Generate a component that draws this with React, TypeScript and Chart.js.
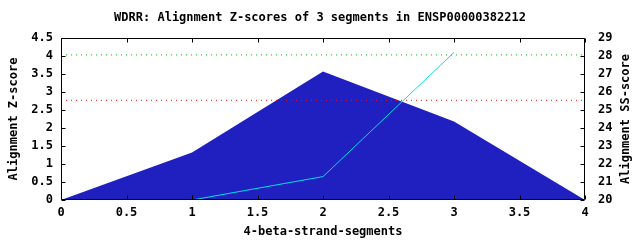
import React, { useEffect, useRef } from 'react';
import { Chart, registerables } from 'chart.js';
Chart.register(...registerables);

const TITLE = 'WDRR: Alignment Z-scores of 3 segments in ENSP00000382212';
const X_LABEL = '4-beta-strand-segments';
const Y_LABEL = 'Alignment Z-score';
const Y2_LABEL = 'Alignment SS-score';

const zSegments = [0, 1, 2, 3, 4];
const zScores = [0, 1.32, 3.57, 2.18, 0];
const ssSegments = [1, 2, 3];
const ssScores = [20, 21.3, 28.2];
const greenLevel = 4.03;
const redLevel = 2.77;
const xRange = [0, 4];

const FAMILY = '"DejaVu Sans Mono", monospace';
const FONT = { family: FAMILY, size: 12, weight: 'bold' as const };

const frame = {
  id: 'frame',
  afterDraw(chart: any) {
    const { ctx, chartArea: a, scales } = chart;
    const L = Math.round(a.left) + 0.5;
    const R = Math.round(a.right) - 0.5;
    const T = Math.round(a.top) + 0.5;
    const B = Math.round(a.bottom) - 0.5;
    ctx.save();
    ctx.strokeStyle = '#000';
    ctx.lineWidth = 1;
    ctx.beginPath();
    ctx.rect(L, T, R - L, B - T);
    const len = 4;
    scales.x.ticks.forEach((t: any) => {
      const px = Math.round(scales.x.getPixelForValue(t.value)) + 0.5;
      ctx.moveTo(px, B); ctx.lineTo(px, B - len);
      ctx.moveTo(px, T); ctx.lineTo(px, T + len);
    });
    scales.y.ticks.forEach((t: any) => {
      const py = Math.round(scales.y.getPixelForValue(t.value)) + 0.5;
      ctx.moveTo(L, py); ctx.lineTo(L + len, py);
    });
    scales.y2.ticks.forEach((t: any) => {
      const py = Math.round(scales.y2.getPixelForValue(t.value)) + 0.5;
      ctx.moveTo(R, py); ctx.lineTo(R - len, py);
    });
    ctx.stroke();
    // right axis title, reading bottom-to-top like the left one
    ctx.fillStyle = '#000';
    ctx.font = `bold 12px ${FAMILY}`;
    ctx.textAlign = 'center';
    ctx.textBaseline = 'middle';
    ctx.translate(626, (a.top + a.bottom) / 2);
    ctx.rotate(-Math.PI / 2);
    ctx.fillText(Y2_LABEL, 0, 0);
    ctx.restore();
  },
};

const fmt = (v: any) => String(Math.round(Number(v) * 100) / 100);

export default function App() {
  const ref = useRef<HTMLCanvasElement>(null);
  useEffect(() => {
    document.body.style.margin = '0';
    const chart = new Chart(ref.current!, {
      type: 'line',
      data: {
        datasets: [
          {
            data: [{ x: xRange[0], y: greenLevel }, { x: xRange[1], y: greenLevel }],
            borderColor: '#00c000', borderWidth: 1, borderDash: [1, 4],
            pointRadius: 0, yAxisID: 'y', order: 0,
          },
          {
            data: [{ x: xRange[0], y: redLevel }, { x: xRange[1], y: redLevel }],
            borderColor: '#ff0000', borderWidth: 1, borderDash: [1, 4],
            pointRadius: 0, yAxisID: 'y', order: 0,
          },
          {
            data: ssSegments.map((x, i) => ({ x, y: ssScores[i] })),
            borderColor: '#00e0e0', borderWidth: 1, pointRadius: 0,
            yAxisID: 'y2', order: 1,
          },
          {
            data: zSegments.map((x, i) => ({ x, y: zScores[i] })),
            borderWidth: 0, borderColor: 'rgba(0,0,0,0)', backgroundColor: '#2020c0',
            fill: 'origin', pointRadius: 0, yAxisID: 'y', order: 5,
          },
        ],
      },
      options: {
        animation: false,
        responsive: false,
        layout: { padding: 0 },
        plugins: {
          legend: { display: false },
          tooltip: { enabled: false },
          title: {
            display: true, text: TITLE, color: '#000', font: FONT,
            padding: { top: 11, bottom: 12.6 },
          },
        },
        scales: {
          x: {
            type: 'linear', min: 0, max: 4,
            ticks: { stepSize: 0.5, color: '#000', font: FONT, padding: 6, maxRotation: 0, callback: fmt },
            grid: { display: false, drawTicks: false },
            border: { display: false },
            title: { display: true, text: X_LABEL, color: '#000', font: FONT, padding: { top: 0, bottom: 1 } },
            afterFit: (s: any) => { s.height = 40; },
          },
          y: {
            type: 'linear', position: 'left', min: 0, max: 4.5,
            ticks: { stepSize: 0.5, color: '#000', font: FONT, padding: 8, callback: fmt },
            grid: { display: false, drawTicks: false },
            border: { display: false },
            title: { display: true, text: Y_LABEL, color: '#000', font: FONT, padding: { top: 7, bottom: 0 } },
            afterFit: (s: any) => { s.width = 61; },
          },
          y2: {
            type: 'linear', position: 'right', min: 20, max: 29,
            ticks: { stepSize: 1, color: '#000', font: FONT, padding: 13, callback: fmt },
            grid: { display: false, drawTicks: false },
            border: { display: false },
            title: { display: false },
            afterFit: (s: any) => { s.width = 55; },
          },
        },
      },
      plugins: [frame],
    });
    return () => chart.destroy();
  }, []);
  return (
    <div style={{ width: 640, height: 240 }}>
      <canvas ref={ref} width={640} height={240} />
    </div>
  );
}
